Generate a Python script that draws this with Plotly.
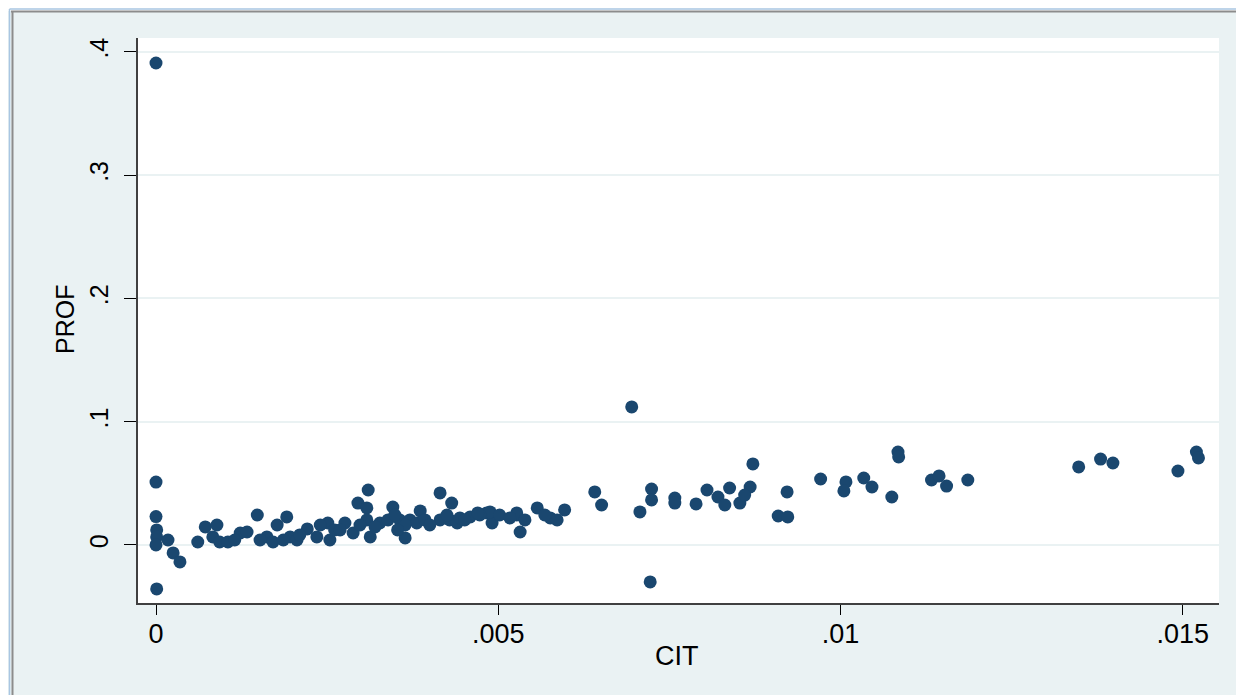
import plotly.graph_objects as go

# CIT (x) and PROF (y) values
cit = [0.0, 0.0, 0.0, 0.00001, 0.00001, 0.0, 0.00001, 0.000175, 0.00025, 0.00035,
       0.00061, 0.00072, 0.00089, 0.00083, 0.00093, 0.00105, 0.00123, 0.00133, 0.00148, 0.00162,
       0.00171, 0.00177, 0.00191, 0.00196, 0.00206, 0.00221, 0.00235, 0.00251, 0.00254, 0.00276,
       0.00288, 0.00295, 0.0031, 0.00308, 0.00313, 0.00308, 0.00327, 0.00346, 0.00339, 0.00356,
       0.00364, 0.00371, 0.00386, 0.00381, 0.00415, 0.00432, 0.00415, 0.00429, 0.0044, 0.00459,
       0.00483, 0.00491, 0.00488, 0.00527, 0.00532, 0.00527, 0.00557, 0.00576, 0.00586, 0.00597,
       0.00641, 0.00651, 0.00695, 0.00707, 0.00724, 0.00724, 0.00722, 0.00758, 0.00758, 0.00789,
       0.00805, 0.00821, 0.00831, 0.00838, 0.00853, 0.00868, 0.0086, 0.00872, 0.00909, 0.00923,
       0.00922, 0.00971, 0.01008, 0.01005, 0.01034, 0.01046, 0.01075, 0.01084, 0.01085, 0.01133,
       0.01144, 0.01155, 0.01186, 0.01348, 0.0138, 0.01398, 0.01493, 0.0152, 0.01523,
       0.0024, 0.00261, 0.00298, 0.00349, 0.00364, 0.00393, 0.00444, 0.00473, 0.00502, 0.00539,
       0.00115, 0.00152, 0.00186, 0.0021, 0.00269, 0.0032, 0.00353, 0.004, 0.00425, 0.00451,
       0.0047, 0.00517, 0.00568]
prof = [0.391, 0.051, 0.023, 0.0122, 0.0065, 0.0, -0.0357, 0.004, -0.0065, -0.0138,
        0.0024, 0.0146, 0.0162, 0.0065, 0.0024, 0.0024, 0.0097, 0.0105, 0.0243, 0.0065,
        0.0024, 0.0162, 0.0227, 0.0065, 0.004, 0.013, 0.0065, 0.0178, 0.004, 0.0178,
        0.0097, 0.034, 0.0446, 0.030, 0.0065, 0.0203, 0.0178, 0.0308, 0.0203, 0.0203,
        0.0057, 0.0203, 0.0276, 0.0178, 0.0422, 0.034, 0.0203, 0.0203, 0.0178, 0.0227,
        0.026, 0.0178, 0.0268, 0.026, 0.0105, 0.0243, 0.030, 0.0219, 0.0203, 0.0284,
        0.043, 0.0324, 0.112, 0.0268, 0.0454, 0.0365, -0.030, 0.0381, 0.034, 0.0333,
        0.0446, 0.0389, 0.0324, 0.0462, 0.034, 0.047, 0.0405, 0.0657, 0.0235, 0.0227,
        0.043, 0.0535, 0.0511, 0.0438, 0.0543, 0.047, 0.0389, 0.0754, 0.0714, 0.0527,
        0.056, 0.0478, 0.0527, 0.0633, 0.0697, 0.0665, 0.060, 0.0754, 0.0706,
        0.0162, 0.0122, 0.0162, 0.0243, 0.0162, 0.0203, 0.0219, 0.0243, 0.0243, 0.0203,
        0.004, 0.004, 0.004, 0.0081, 0.0122, 0.0146, 0.0122, 0.0162, 0.0243, 0.0203,
        0.026, 0.0219, 0.0243]

x_ticks = [0, 0.005, 0.01, 0.015]
x_labels = ["0", ".005", ".01", ".015"]
y_ticks = [0, 0.1, 0.2, 0.3, 0.4]
y_labels = ["0", ".1", ".2", ".3", ".4"]
x_title = "CIT"
y_title = "PROF"

BG = "#EAF2F3"
NAVY = "#1A476F"
FONT = "Liberation Sans, Arial, sans-serif"

fig = go.Figure()
fig.add_trace(go.Scatter(
    x=cit, y=prof, mode="markers",
    marker=dict(color=NAVY, size=13, line=dict(width=0)),
    showlegend=False, hoverinfo="skip",
))

# the page puts the figure 8px in from the window edge
OFF = 8
W, H = 1244, 695
# plot area in window px: x 138..1219, y 38..603
L, T = 138 - OFF, 38 - OFF
R, B = W - (1219 - OFF), H - (603 - OFF)
pw, ph = W - L - R, H - T - B

def px_x(p):  # window px -> paper x
    return (p - OFF - L) / pw

def px_y(p):  # window px -> paper y
    return (H - B - (p - OFF)) / ph

shapes = [
    dict(type="rect", xref="paper", yref="paper", x0=px_x(0), x1=px_x(W + OFF),
         y0=px_y(11), y1=px_y(0), fillcolor="white", line=dict(width=0), layer="below"),
    dict(type="line", xref="paper", yref="paper", x0=px_x(9.5), x1=px_x(W + OFF),
         y0=px_y(9), y1=px_y(9), line=dict(color="#A9C6E2", width=1.5)),
    dict(type="line", xref="paper", yref="paper", x0=px_x(11), x1=px_x(W + OFF),
         y0=px_y(11.5), y1=px_y(11.5), line=dict(color="#8C8C8C", width=2)),
    dict(type="line", xref="paper", yref="paper", x0=px_x(9.5), x1=px_x(9.5),
         y0=px_y(9), y1=px_y(H + OFF), line=dict(color="#A9C6E2", width=1.5)),
    dict(type="line", xref="paper", yref="paper", x0=px_x(12.5), x1=px_x(12.5),
         y0=px_y(11), y1=px_y(H + OFF), line=dict(color="#8C8C8C", width=2)),
]

annotations = [
    dict(text=x_title, xref="paper", yref="paper", x=px_x(677), y=px_y(656),
         xanchor="center", yanchor="middle", showarrow=False,
         font=dict(size=27, family=FONT, color="black")),
    dict(text=y_title, xref="paper", yref="paper", x=px_x(65), y=px_y(320),
         xanchor="center", yanchor="middle", showarrow=False, textangle=-90,
         font=dict(size=25, family=FONT, color="black")),
]

fig.update_layout(
    width=W, height=H,
    margin=dict(l=L, r=R, t=T, b=B, pad=0),
    paper_bgcolor=BG, plot_bgcolor="white",
    font=dict(family=FONT, color="black"),
    shapes=shapes, annotations=annotations,
)
fig.update_xaxes(
    range=[-0.000263, 0.01553], tickvals=x_ticks, ticktext=x_labels,
    ticks="outside", ticklen=10, tickwidth=1.2, tickcolor="black",
    showline=True, linecolor="#404040", linewidth=1.5,
    showgrid=False, zeroline=False, ticklabelstandoff=-4,
    tickfont=dict(size=27),
)
fig.update_yaxes(
    range=[-0.0471, 0.4113], tickvals=y_ticks, ticktext=y_labels,
    ticks="outside", ticklen=12, tickwidth=1.2, tickcolor="black",
    showline=True, linecolor="#404040", linewidth=1.5,
    showgrid=True, gridcolor=BG, gridwidth=2, zeroline=False,
    tickangle=-90, tickfont=dict(size=25), ticklabelstandoff=6,
)

fig.write_html("out.html")
